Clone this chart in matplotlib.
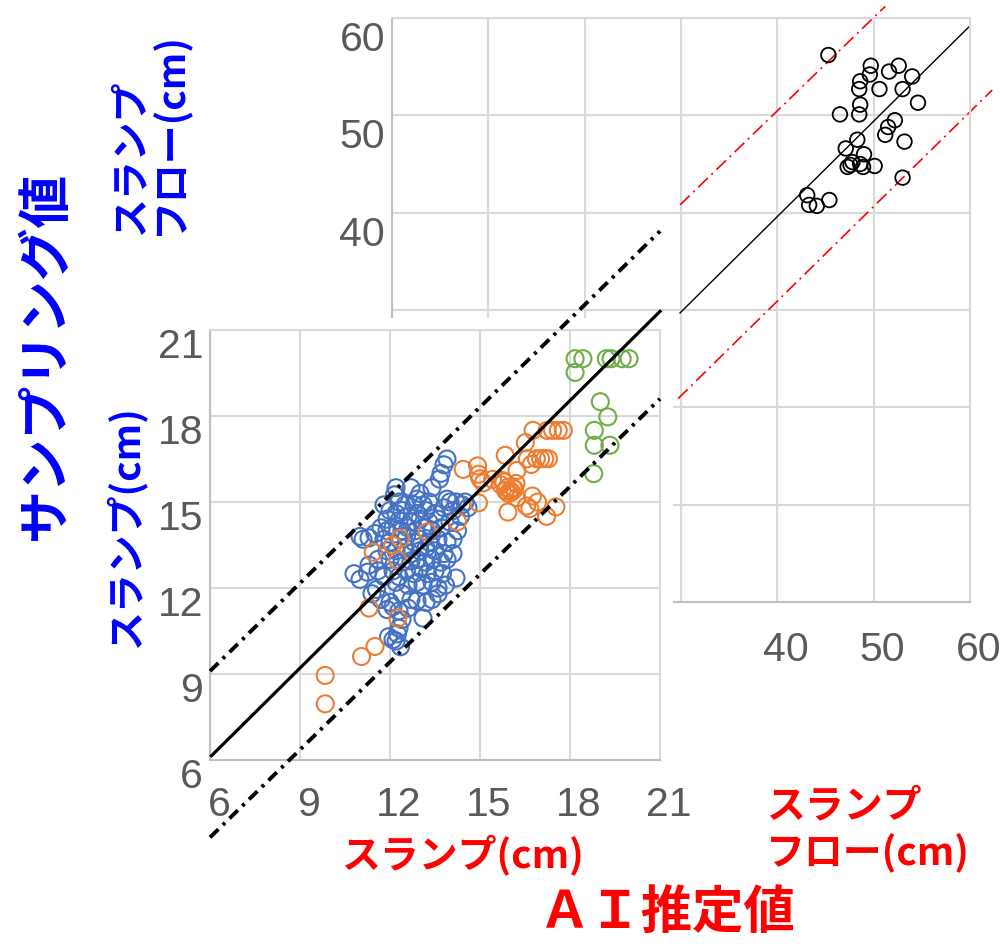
import matplotlib
matplotlib.use("Agg")
import matplotlib.pyplot as plt
from matplotlib import font_manager
from matplotlib.patches import Rectangle
from matplotlib.transforms import ScaledTranslation

plt.rcParams['font.family'] = ['Noto Sans CJK JP', 'DejaVu Sans']

installed = {f.name for f in font_manager.fontManager.ttflist}
tick_font = 'Liberation Sans Narrow' if 'Liberation Sans Narrow' in installed else 'Liberation Sans'

# slump flow (cm): AI estimate vs. sampled value
flow_ai = [45.3, 49.7, 49.6, 48.6, 48.5, 50.6, 51.6, 52.6, 54.0, 53.0, 54.6, 46.5,
           48.6, 48.5, 52.2, 51.5, 51.2, 53.2, 48.3, 47.1, 49.0, 47.8, 47.3, 47.6,
           48.6, 48.9, 50.1, 53.0, 43.1, 43.3, 44.1, 45.4]
flow_meas = [56.2, 55.1, 54.2, 53.5, 52.7, 52.7, 54.5, 55.1, 54.0, 52.7, 51.3, 50.1,
             51.1, 50.1, 49.5, 48.8, 48.0, 47.3, 47.5, 46.6, 46.0, 45.2, 44.7, 44.9,
             45.0, 44.7, 44.8, 43.6, 41.8, 40.8, 40.7, 41.3]

# slump (cm), three groups
blue_ai = [13.9, 13.8, 13.7, 13.65, 13.4, 12.2, 12.7, 12.15, 13.0, 12.9,
           11.8, 12.3, 12.5, 12.8, 13.1, 13.3, 13.9, 14.0, 14.2, 14.4, 14.5, 14.6,
           12.0, 12.2, 12.4, 12.6, 12.9, 13.2, 13.5, 13.8, 14.1, 14.35,
           11.9, 12.3, 12.7, 13.0, 13.3, 13.6, 14.0,
           11.0, 11.1, 11.3, 11.5, 11.7, 11.9, 12.1, 12.4, 12.6, 12.85, 13.1, 13.4, 13.7, 14.25,
           11.8, 12.0, 12.3, 12.55, 12.8, 13.0, 13.3, 13.6, 13.9, 14.1,
           11.9, 12.2, 12.5, 12.7, 13.0, 13.2, 13.5, 13.8, 14.1,
           11.6, 12.0, 12.4, 12.7, 12.9, 13.2, 13.4, 13.7, 13.9,
           10.8, 11.0, 11.25, 11.3, 11.6, 11.8, 12.1, 12.3, 12.55, 12.8, 13.0, 13.25, 13.5, 13.75, 14.2,
           12.2, 12.6, 12.9, 13.1, 13.4, 13.6, 13.85,
           11.4, 11.55, 11.7, 11.9, 12.0, 12.1, 12.4, 12.7, 12.9, 13.2, 13.4, 13.6, 12.3, 12.6, 13.1,
           11.95, 12.1, 12.25, 12.35, 12.2, 12.3, 12.4]
blue_meas = [16.5, 16.3, 16.0, 15.8, 15.5, 15.5, 15.5, 15.25, 15.3, 15.1,
             14.9, 15.0, 14.9, 14.9, 14.9, 15.0, 15.1, 15.0, 15.0, 14.9, 15.0, 14.8,
             14.7, 14.6, 14.7, 14.5, 14.6, 14.7, 14.6, 14.8, 14.7, 14.5,
             14.4, 14.35, 14.3, 14.4, 14.3, 14.4, 14.3,
             13.8, 13.7, 13.75, 13.9, 14.1, 14.0, 14.1, 14.0, 14.1, 14.0, 14.1, 14.0, 14.1, 14.0,
             13.7, 13.6, 13.7, 13.8, 13.6, 13.7, 13.6, 13.7, 13.6, 13.7,
             13.3, 13.3, 13.4, 13.2, 13.3, 13.4, 13.3, 13.2, 13.2,
             13.0, 13.0, 12.9, 12.95, 13.0, 12.9, 13.0, 12.9, 13.0,
             12.5, 12.3, 12.55, 12.8, 12.6, 12.4, 12.6, 12.4, 12.6, 12.5, 12.7, 12.5, 12.6, 12.5, 12.35,
             12.2, 12.1, 12.2, 12.1, 12.2, 12.0, 12.1,
             11.8, 11.95, 11.6, 11.25, 11.5, 11.35, 11.8, 11.6, 11.55, 11.5, 11.6, 11.8, 11.2, 11.3, 10.95,
             10.3, 10.2, 10.4, 9.95, 10.15, 10.6, 10.9]

orange_ai = [9.84, 9.84, 11.05, 11.5, 11.3, 12.26, 12.26, 11.44, 12.09, 12.34, 13.24, 14.25,
             14.44, 14.92, 14.95, 15.0, 15.11, 14.95, 15.42, 15.7, 15.8, 15.9, 16.0, 16.1,
             16.2, 15.85, 15.95, 16.05, 16.15, 15.75, 15.93, 16.23, 15.84, 16.51, 16.58, 16.71,
             16.88, 17.02, 17.16, 17.28, 16.77, 17.24, 17.42, 17.61, 17.78, 16.23, 16.55, 16.75,
             16.92, 17.22, 17.53, 16.66]
orange_meas = [8.95, 7.96, 9.61, 9.96, 11.3, 10.95, 12.97, 13.25, 13.49, 13.73, 13.96, 14.31,
               16.14, 16.26, 15.97, 15.81, 15.67, 14.97, 15.79, 15.6, 15.7, 15.5, 15.4, 15.5,
               15.65, 15.4, 15.3, 15.35, 15.45, 15.75, 14.65, 16.1, 16.63, 17.07, 16.51, 16.31,
               16.51, 16.51, 16.51, 16.51, 17.5, 17.5, 17.5, 17.5, 17.5, 15.15, 14.86, 15.21,
               15.0, 14.5, 14.83, 14.77]

green_ai = [18.17, 18.43, 19.21, 19.37, 19.74, 19.97, 18.17, 19.01, 19.26, 18.81, 18.81, 19.33, 18.79]
green_meas = [20.0, 20.0, 20.0, 20.0, 20.0, 20.0, 19.52, 18.5, 17.97, 17.5, 16.98, 16.98, 15.99]

flow_ticks = [0, 10, 20, 30, 40, 50, 60]
flow_labels = ['', '', '', '', '40', '50', '60']
slump_ticks = [6, 9, 12, 15, 18, 21]

# reference lines (x pairs, y pairs)
flow_center = ([29.9, 60.0], [29.7, 59.2])
flow_upper = ([29.9, 51.2], [40.8, 61.2])
flow_lower = ([29.7, 62.3], [20.9, 52.6])
slump_center = ([6.05, 21.0], [6.15, 21.65])
slump_upper = ([6.0, 21.0], [9.1, 24.45])
slump_lower = ([6.0, 21.0], [3.3, 18.6])

grid_c = '#d9d9d9'
spine_c = '#bfbfbf'
tick_c = '#595959'

fig = plt.figure(figsize=(10, 9.44), dpi=100)


def shift(labels, dx_px, dy_px):
    off = ScaledTranslation(dx_px / 100, dy_px / 100, fig.dpi_scale_trans)
    for lab in labels:
        lab.set_transform(lab.get_transform() + off)


# slump flow panel (large, behind)
ax1 = fig.add_axes([0.392, 0.3623, 0.578, 0.6186])
ax1.set_zorder(0)
ax1.set_xlim(0, 60)
ax1.set_ylim(0, 60)
ax1.set_xticks(flow_ticks)
ax1.set_yticks(flow_ticks)
ax1.set_xticklabels(flow_labels)
ax1.set_yticklabels(flow_labels)
ax1.grid(True, color=grid_c, lw=1.5)
ax1.set_axisbelow(True)
for s in ['top', 'right']:
    ax1.spines[s].set_color(grid_c)
    ax1.spines[s].set_linewidth(1.5)
for s in ['left', 'bottom']:
    ax1.spines[s].set_color(spine_c)
    ax1.spines[s].set_linewidth(1.5)
ax1.tick_params(length=0, labelcolor=tick_c, labelsize=29.5)
ax1.tick_params(axis='x', pad=21)
ax1.tick_params(axis='y', pad=5)
for lab in ax1.get_xticklabels() + ax1.get_yticklabels():
    lab.set_fontfamily(tick_font)
shift(ax1.get_xticklabels(), 9, 0)
shift(ax1.get_yticklabels(), 0, -18)

ax1.scatter(flow_ai, flow_meas, s=110, facecolors='none', edgecolors='black', linewidths=1.3, zorder=3)
ax1.plot(*flow_center, color='black', lw=1.0, clip_on=False)
ax1.plot(*flow_upper, color='red', lw=1.2, dashes=(8, 3, 1.2, 3), clip_on=False)
ax1.plot(*flow_lower, color='red', lw=1.2, dashes=(8, 3, 1.2, 3), clip_on=False)

# white block hiding the lower-left part of the large panel
fig.patches.append(Rectangle((0, 0), 0.673, 0.663, transform=fig.transFigure,
                             facecolor='white', edgecolor='none', zorder=0.5))

# slump panel (small, in front)
ax2 = fig.add_axes([0.21, 0.1949, 0.45, 0.4555])
ax2.set_zorder(1)
ax2.set_xlim(6, 21)
ax2.set_ylim(6, 21)
ax2.set_xticks(slump_ticks)
ax2.set_yticks(slump_ticks)
ax2.grid(True, color=grid_c, lw=1.5)
ax2.set_axisbelow(True)
for s in ['top', 'right']:
    ax2.spines[s].set_color(grid_c)
    ax2.spines[s].set_linewidth(1.5)
for s in ['left', 'bottom']:
    ax2.spines[s].set_color(spine_c)
    ax2.spines[s].set_linewidth(1.5)
ax2.tick_params(length=0, labelcolor=tick_c, labelsize=29.5)
ax2.tick_params(axis='x', pad=19)
ax2.tick_params(axis='y', pad=5)
for lab in ax2.get_xticklabels() + ax2.get_yticklabels():
    lab.set_fontfamily(tick_font)
shift(ax2.get_xticklabels(), 9, 0)
shift(ax2.get_yticklabels(), 0, -13)

ax2.scatter(blue_ai, blue_meas, s=150, facecolors='none', edgecolors='#4472C4', linewidths=1.5, zorder=3)
ax2.scatter(orange_ai, orange_meas, s=150, facecolors='none', edgecolors='#ED7D31', linewidths=1.5, zorder=3)
ax2.scatter(green_ai, green_meas, s=150, facecolors='none', edgecolors='#70AD47', linewidths=1.5, zorder=3)
ax2.plot(*slump_center, color='black', lw=2.3, clip_on=False, zorder=4)
ax2.plot(*slump_upper, color='black', lw=2.8, dashes=(3, 1.6, 0.8, 1.6), clip_on=False, zorder=4)
ax2.plot(*slump_lower, color='black', lw=2.8, dashes=(3, 1.6, 0.8, 1.6), clip_on=False, zorder=4)

# axis captions
blue = '#0000FF'
red = '#FF0000'
fig.text(0.045, 1 - 355 / 944, 'サンプリング値', rotation=90, ha='center', va='center',
         fontsize=38, fontweight='bold', color=blue)
fig.text(0.125, 1 - 527 / 944, 'スランプ(cm)', rotation=90, ha='center', va='center',
         fontsize=28, fontweight='bold', color=blue)
fig.text(0.150, 1 - 235 / 944, 'スランプ\nフロー(cm)', rotation=90, ha='center', va='bottom',
         multialignment='left', linespacing=1.0, fontsize=28, fontweight='bold', color=blue)
fig.text(0.462, 1 - 855 / 944, 'スランプ(cm)', ha='center', va='center',
         fontsize=28, fontweight='bold', color=red)
fig.text(0.766, 1 - 830 / 944, 'スランプ\nフロー(cm)', ha='left', va='center',
         multialignment='left', linespacing=1.25, fontsize=28, fontweight='bold', color=red)
fig.text(0.667, 1 - 912 / 944, 'ＡＩ推定値', ha='center', va='center',
         fontsize=37, fontweight='bold', color=red)

fig.savefig('out.png', dpi=100)
